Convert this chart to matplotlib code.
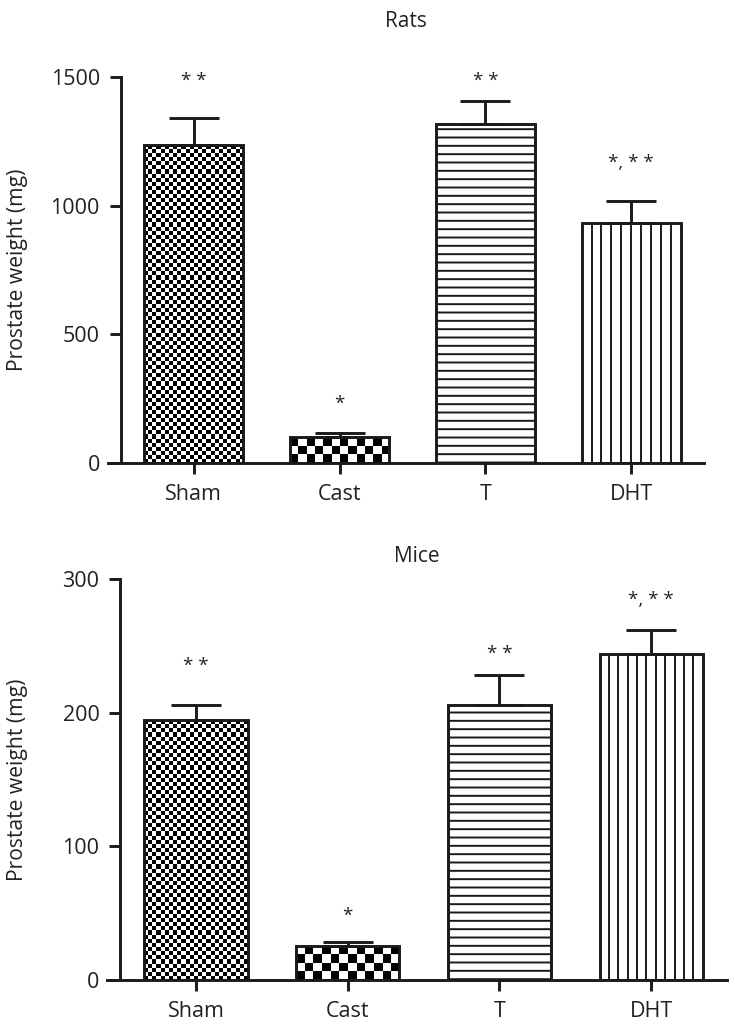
import numpy as np
import matplotlib
matplotlib.use('Agg')
import matplotlib.pyplot as plt
from matplotlib.transforms import blended_transform_factory

plt.rcParams['font.family'] = ['Open Sans', 'DejaVu Sans']
plt.rcParams['hatch.linewidth'] = 1.4

# data
groups = ['Sham', 'Cast', 'T', 'DHT']

rats_mean = [1236, 100, 1316, 933]
rats_err = [104, 14, 92, 86]
rats_stars = ['* *', '*', '* *', '*, * *']
rats_star_y = [1519, 266, 1519, 1200]

mice_mean = [194.5, 25.5, 205.5, 244]
mice_err = [11.5, 3, 22.5, 18]
mice_stars = ['* *', '*', '* *', '*, * *']
mice_star_y = [241.5, 54.5, 250.5, 291]

fig = plt.figure(figsize=(7.35, 10.29), dpi=100)
ax1 = fig.add_axes([0.147, 0.5503, 0.811, 0.3748])
ax2 = fig.add_axes([0.1456, 0.0476, 0.8435, 0.3897])


def checker(ax, bar, cell_px):
    # checkerboard fill clipped to the bar
    x0, y0 = bar.get_x(), bar.get_y()
    w, h = bar.get_width(), bar.get_height()
    p0 = ax.transData.transform((x0, y0))
    p1 = ax.transData.transform((x0 + w, y0 + h))
    nx = max(1, int(round((p1[0] - p0[0]) / cell_px)))
    ny = max(1, int(round((p1[1] - p0[1]) / cell_px)))
    board = np.indices((ny, nx)).sum(axis=0) % 2
    im = ax.imshow(board, cmap='gray', extent=(x0, x0 + w, y0, y0 + h),
                   origin='lower', aspect='auto', interpolation='nearest',
                   zorder=0.5, vmin=0, vmax=1)
    im.set_clip_path(bar)


def vstripes(ax, bar, step_px):
    x0, y0 = bar.get_x(), bar.get_y()
    w, h = bar.get_width(), bar.get_height()
    p0 = ax.transData.transform((x0, y0))
    p1 = ax.transData.transform((x0 + w, y0 + h))
    n = max(1, int(round((p1[0] - p0[0]) / step_px)))
    xs = x0 + w * np.arange(1, n) / n
    lc = ax.vlines(xs, y0, y0 + h, colors='#1a1a1a', linewidth=1.4, zorder=0.5)
    lc.set_clip_path(bar)


def panel(ax, means, errs, stars, star_y, ymax, yticks, title, tpad):
    x = np.arange(len(groups))
    ax.set_xlim(-0.587, 3.5)
    ax.set_ylim(0, ymax)
    bars = ax.bar(x, means, width=0.68, facecolor='none', edgecolor='#1a1a1a',
                  linewidth=2.1, zorder=1)
    bars[2].set_hatch('--')
    ax.errorbar(x, means, yerr=[np.zeros(len(errs)), errs], fmt='none',
                ecolor='#1a1a1a', elinewidth=2.1, capsize=18, capthick=2.1,
                zorder=2)
    fig.canvas.draw()
    checker(ax, bars[0], 4.1)
    checker(ax, bars[1], 8.4)
    vstripes(ax, bars[3], 9.8)
    ax.set_xlim(-0.587, 3.5)
    ax.set_ylim(0, ymax)
    for xi, s, sy in zip(x, stars, star_y):
        ax.text(xi, sy, s, ha='center', va='top', fontsize=13.5, color='#222222')
    ax.spines['top'].set_visible(False)
    ax.spines['right'].set_visible(False)
    ax.spines['left'].set_position(('data', -0.5))
    for sp in ['left', 'bottom']:
        ax.spines[sp].set_linewidth(2.1)
        ax.spines[sp].set_color('#1a1a1a')
    ax.set_xticks(x)
    ax.set_xticklabels(groups)
    ax.set_yticks(yticks)
    ax.tick_params(direction='out', length=8, width=2.1, labelsize=15.5,
                   color='#1a1a1a', labelcolor='#222222', pad=7)
    ax.set_ylabel('Prostate weight (mg)', fontsize=15.2, color='#222222',
                  va='center')
    ax.yaxis.set_label_coords(18 / 735, 0.5,
                              transform=blended_transform_factory(fig.transFigure, ax.transAxes))
    ax.set_title(title, fontsize=15, color='#222222', pad=tpad)


panel(ax1, rats_mean, rats_err, rats_stars, rats_star_y, 1500,
      [0, 500, 1000, 1500], 'Rats', 36)
panel(ax2, mice_mean, mice_err, mice_stars, mice_star_y, 300,
      [0, 100, 200, 300], 'Mice', 12)

fig.savefig('out.png', dpi=100)
